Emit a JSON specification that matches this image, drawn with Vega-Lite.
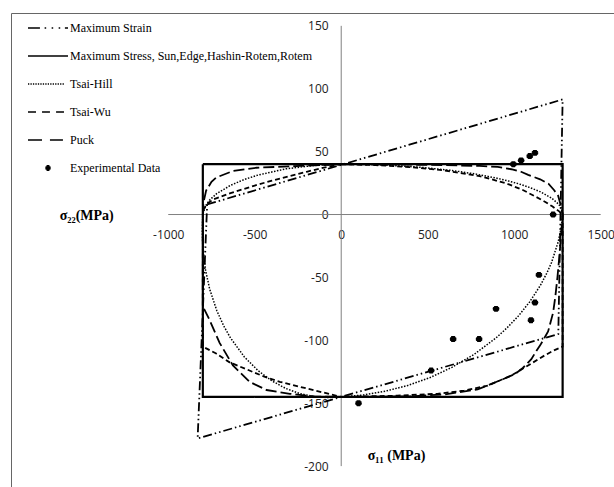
{
"$schema": "https://vega.github.io/schema/vega-lite/v6.json",
"width": 603, "height": 474,
"autosize": {"type": "none"},
"padding": {"left": 11, "top": 13, "right": 0, "bottom": 0},
"background": "white",
"config": {"view": {"stroke": "#666", "strokeWidth": 1}},
"layer": [
{"data": {"values": [{}]}, "mark": {"type": "rule", "color": "#808080", "strokeWidth": 1},
 "encoding": {"x": {"datum": -1000, "type": "quantitative", "scale": {"domain": [-1909, 1577], "nice": false, "zero": false},
   "axis": {"orient": "bottom", "offset": -272.5, "values": [-1000, -500, 0, 500, 1000, 1500], "labelExpr": "'' + datum.value", "domain": false, "ticks": false, "tickSize": 0, "grid": false, "labelFont": "Open Sans", "labelFontSize": 12, "labelColor": "#222", "labelPadding": 15, "labelFlush": false, "labelOverlap": false,
    "title": "σ₁₁ (MPa)", "titleFont": "Liberation Serif", "titleFontSize": 14, "titleFontWeight": "bold", "titleColor": "black", "titleX": 385, "titleY": 240.5, "titleAlign": "center", "titleBaseline": "middle", "titleAngle": 0}},
  "x2": {"datum": 1500},
  "y": {"datum": 0, "type": "quantitative", "scale": {"domain": [-216.6, 160.2], "nice": false, "zero": false},
   "axis": {"orient": "left", "offset": -330.2, "values": [-200, -150, -100, -50, 0, 50, 100, 150], "labelExpr": "'' + datum.value", "domain": false, "ticks": false, "tickSize": 0, "grid": false, "labelFont": "Open Sans", "labelFontSize": 12, "labelColor": "#222", "labelPadding": 13, "labelFlush": false, "labelOverlap": false,
    "title": "σ₂₂(MPa)", "titleFont": "Liberation Serif", "titleFontSize": 14, "titleFontWeight": "bold", "titleColor": "black", "titleX": -255, "titleY": 202, "titleAlign": "center", "titleBaseline": "middle", "titleAngle": 0}}}},
{"data": {"values": [{}]}, "mark": {"type": "rule", "color": "#808080", "strokeWidth": 1},
 "encoding": {"x": {"datum": 0, "type": "quantitative", "scale": {"domain": [-1909, 1577], "nice": false, "zero": false}},
  "y": {"datum": -200, "type": "quantitative", "scale": {"domain": [-216.6, 160.2], "nice": false, "zero": false}}, "y2": {"datum": 150}}},
{"data": {"values": [
{"s":"Maximum Strain","i":0,"x":-775,"y":8},{"s":"Maximum Strain","i":1,"x":1280,"y":91.5},{"s":"Maximum Strain","i":2,"x":1255,"y":-95},{"s":"Maximum Strain","i":3,"x":-830,"y":-178},{"s":"Maximum Strain","i":4,"x":-775,"y":8},
{"s":"Maximum Stress, Sun,Edge,Hashin-Rotem,Rotem","i":0,"x":-800,"y":40},{"s":"Maximum Stress, Sun,Edge,Hashin-Rotem,Rotem","i":1,"x":1280,"y":40},{"s":"Maximum Stress, Sun,Edge,Hashin-Rotem,Rotem","i":2,"x":1280,"y":-145},{"s":"Maximum Stress, Sun,Edge,Hashin-Rotem,Rotem","i":3,"x":-800,"y":-145},{"s":"Maximum Stress, Sun,Edge,Hashin-Rotem,Rotem","i":4,"x":-800,"y":40},
{"s":"Tsai-Hill","i":0,"x":0,"y":40},{"s":"Tsai-Hill","i":1,"x":128,"y":39.9},{"s":"Tsai-Hill","i":2,"x":256,"y":39.3},{"s":"Tsai-Hill","i":3,"x":448,"y":37.7},{"s":"Tsai-Hill","i":4,"x":640,"y":35},{"s":"Tsai-Hill","i":5,"x":768,"y":32.4},{"s":"Tsai-Hill","i":6,"x":896,"y":29},{"s":"Tsai-Hill","i":7,"x":960,"y":26.9},{"s":"Tsai-Hill","i":8,"x":1024,"y":24.5},{"s":"Tsai-Hill","i":9,"x":1088,"y":21.6},{"s":"Tsai-Hill","i":10,"x":1152,"y":18},{"s":"Tsai-Hill","i":11,"x":1216,"y":13.1},{"s":"Tsai-Hill","i":12,"x":1254,"y":8.6},{"s":"Tsai-Hill","i":13,"x":1267,"y":6.3},{"s":"Tsai-Hill","i":14,"x":1274,"y":4.7},{"s":"Tsai-Hill","i":15,"x":1280,"y":1.3},
{"s":"Tsai-Hill","i":16,"x":1280,"y":0},{"s":"Tsai-Hill","i":17,"x":1274,"y":-8.5},{"s":"Tsai-Hill","i":18,"x":1267,"y":-13.9},{"s":"Tsai-Hill","i":19,"x":1254,"y":-21.9},{"s":"Tsai-Hill","i":20,"x":1216,"y":-38.1},{"s":"Tsai-Hill","i":21,"x":1190,"y":-46.2},{"s":"Tsai-Hill","i":22,"x":1152,"y":-56.2},{"s":"Tsai-Hill","i":23,"x":1088,"y":-69.7},{"s":"Tsai-Hill","i":24,"x":1024,"y":-80.7},{"s":"Tsai-Hill","i":25,"x":960,"y":-89.9},{"s":"Tsai-Hill","i":26,"x":896,"y":-98},{"s":"Tsai-Hill","i":27,"x":768,"y":-111.2},{"s":"Tsai-Hill","i":28,"x":640,"y":-121.5},{"s":"Tsai-Hill","i":29,"x":512,"y":-129.7},{"s":"Tsai-Hill","i":30,"x":384,"y":-135.9},{"s":"Tsai-Hill","i":31,"x":256,"y":-140.4},{"s":"Tsai-Hill","i":32,"x":128,"y":-143.5},{"s":"Tsai-Hill","i":33,"x":0,"y":-145},
{"s":"Tsai-Hill","i":34,"x":-80,"y":-145.5},{"s":"Tsai-Hill","i":35,"x":-160,"y":-144.7},{"s":"Tsai-Hill","i":36,"x":-240,"y":-142.3},{"s":"Tsai-Hill","i":37,"x":-320,"y":-138.3},{"s":"Tsai-Hill","i":38,"x":-400,"y":-132.3},{"s":"Tsai-Hill","i":39,"x":-480,"y":-124.2},{"s":"Tsai-Hill","i":40,"x":-560,"y":-113.2},{"s":"Tsai-Hill","i":41,"x":-640,"y":-98.1},{"s":"Tsai-Hill","i":42,"x":-680,"y":-88.4},{"s":"Tsai-Hill","i":43,"x":-720,"y":-76.1},{"s":"Tsai-Hill","i":44,"x":-760,"y":-59.5},{"s":"Tsai-Hill","i":45,"x":-784,"y":-44.5},{"s":"Tsai-Hill","i":46,"x":-800,"y":-26.3},{"s":"Tsai-Hill","i":47,"x":-803,"y":-13.2},{"s":"Tsai-Hill","i":48,"x":-800,"y":0},
{"s":"Tsai-Hill","i":49,"x":-784,"y":7},{"s":"Tsai-Hill","i":50,"x":-760,"y":11.6},{"s":"Tsai-Hill","i":51,"x":-720,"y":16.6},{"s":"Tsai-Hill","i":52,"x":-640,"y":23.2},{"s":"Tsai-Hill","i":53,"x":-560,"y":27.9},{"s":"Tsai-Hill","i":54,"x":-480,"y":31.4},{"s":"Tsai-Hill","i":55,"x":-320,"y":36.3},{"s":"Tsai-Hill","i":56,"x":-160,"y":39},{"s":"Tsai-Hill","i":57,"x":0,"y":40},
{"s":"Tsai-Wu","i":0,"x":0,"y":40},{"s":"Tsai-Wu","i":1,"x":200,"y":39.3},{"s":"Tsai-Wu","i":2,"x":400,"y":37.7},{"s":"Tsai-Wu","i":3,"x":600,"y":35},{"s":"Tsai-Wu","i":4,"x":800,"y":30.5},{"s":"Tsai-Wu","i":5,"x":950,"y":25},{"s":"Tsai-Wu","i":6,"x":1050,"y":19.5},{"s":"Tsai-Wu","i":7,"x":1120,"y":14.5},{"s":"Tsai-Wu","i":8,"x":1180,"y":10},{"s":"Tsai-Wu","i":9,"x":1220,"y":6.5},{"s":"Tsai-Wu","i":10,"x":1260,"y":2.5},{"s":"Tsai-Wu","i":11,"x":1280,"y":0},
{"s":"Tsai-Wu","i":12,"x":1280,"y":-50},{"s":"Tsai-Wu","i":13,"x":1280,"y":-105},{"s":"Tsai-Wu","i":14,"x":1230,"y":-108},{"s":"Tsai-Wu","i":15,"x":1176,"y":-112},{"s":"Tsai-Wu","i":16,"x":1080,"y":-120},{"s":"Tsai-Wu","i":17,"x":983,"y":-128},{"s":"Tsai-Wu","i":18,"x":847,"y":-136},{"s":"Tsai-Wu","i":19,"x":711,"y":-140},{"s":"Tsai-Wu","i":20,"x":556,"y":-142.5},{"s":"Tsai-Wu","i":21,"x":324,"y":-144},{"s":"Tsai-Wu","i":22,"x":0,"y":-145},
{"s":"Tsai-Wu","i":23,"x":-103,"y":-141.5},{"s":"Tsai-Wu","i":24,"x":-238,"y":-137},{"s":"Tsai-Wu","i":25,"x":-355,"y":-133},{"s":"Tsai-Wu","i":26,"x":-452,"y":-128.5},{"s":"Tsai-Wu","i":27,"x":-548,"y":-123},{"s":"Tsai-Wu","i":28,"x":-645,"y":-117.5},{"s":"Tsai-Wu","i":29,"x":-723,"y":-110.5},{"s":"Tsai-Wu","i":30,"x":-800,"y":-105},{"s":"Tsai-Wu","i":31,"x":-800,"y":-50},{"s":"Tsai-Wu","i":32,"x":-800,"y":0},
{"s":"Tsai-Wu","i":33,"x":-795,"y":4},{"s":"Tsai-Wu","i":34,"x":-780,"y":8},{"s":"Tsai-Wu","i":35,"x":-740,"y":12},{"s":"Tsai-Wu","i":36,"x":-640,"y":17},{"s":"Tsai-Wu","i":37,"x":-500,"y":23},{"s":"Tsai-Wu","i":38,"x":-400,"y":27},{"s":"Tsai-Wu","i":39,"x":-300,"y":30.5},{"s":"Tsai-Wu","i":40,"x":-200,"y":34},{"s":"Tsai-Wu","i":41,"x":-100,"y":37.3},{"s":"Tsai-Wu","i":42,"x":0,"y":40},
{"s":"Puck","i":0,"x":0,"y":40},{"s":"Puck","i":1,"x":300,"y":39.8},{"s":"Puck","i":2,"x":600,"y":39.3},{"s":"Puck","i":3,"x":800,"y":38.6},{"s":"Puck","i":4,"x":905,"y":37.8},{"s":"Puck","i":5,"x":983,"y":36},{"s":"Puck","i":6,"x":1040,"y":34},{"s":"Puck","i":7,"x":1081,"y":31.5},{"s":"Puck","i":8,"x":1150,"y":28},{"s":"Puck","i":9,"x":1198,"y":24.5},{"s":"Puck","i":10,"x":1230,"y":19.5},{"s":"Puck","i":11,"x":1254,"y":15},{"s":"Puck","i":12,"x":1270,"y":7},{"s":"Puck","i":13,"x":1280,"y":0},
{"s":"Puck","i":14,"x":1272,"y":-15},{"s":"Puck","i":15,"x":1262,"y":-32},{"s":"Puck","i":16,"x":1250,"y":-50},{"s":"Puck","i":17,"x":1238,"y":-65},{"s":"Puck","i":18,"x":1225,"y":-78},{"s":"Puck","i":19,"x":1196,"y":-93},{"s":"Puck","i":20,"x":1150,"y":-104},{"s":"Puck","i":21,"x":1130,"y":-108},{"s":"Puck","i":22,"x":1099,"y":-115},{"s":"Puck","i":23,"x":1050,"y":-122},{"s":"Puck","i":24,"x":1002,"y":-127},{"s":"Puck","i":25,"x":924,"y":-131.5},{"s":"Puck","i":26,"x":789,"y":-139},{"s":"Puck","i":27,"x":600,"y":-143},{"s":"Puck","i":28,"x":400,"y":-144.5},{"s":"Puck","i":29,"x":0,"y":-145},
{"s":"Puck","i":30,"x":-150,"y":-144.7},{"s":"Puck","i":31,"x":-297,"y":-142.5},{"s":"Puck","i":32,"x":-432,"y":-139.5},{"s":"Puck","i":33,"x":-529,"y":-133},{"s":"Puck","i":34,"x":-626,"y":-120},{"s":"Puck","i":35,"x":-703,"y":-102},{"s":"Puck","i":36,"x":-762,"y":-83.5},{"s":"Puck","i":37,"x":-800,"y":-73},{"s":"Puck","i":38,"x":-800,"y":-30},{"s":"Puck","i":39,"x":-800,"y":0},
{"s":"Puck","i":40,"x":-797,"y":9},{"s":"Puck","i":41,"x":-781,"y":19},{"s":"Puck","i":42,"x":-750,"y":26},{"s":"Puck","i":43,"x":-723,"y":29.4},{"s":"Puck","i":44,"x":-626,"y":34.6},{"s":"Puck","i":45,"x":-490,"y":37.2},{"s":"Puck","i":46,"x":-238,"y":38.6},{"s":"Puck","i":47,"x":0,"y":40}
]},
 "mark": {"type": "line", "color": "black"},
 "encoding": {
  "x": {"field": "x", "type": "quantitative", "scale": {"domain": [-1909, 1577], "nice": false, "zero": false}},
  "y": {"field": "y", "type": "quantitative", "scale": {"domain": [-216.6, 160.2], "nice": false, "zero": false}},
  "order": {"field": "i", "type": "quantitative"},
  "strokeDash": {"field": "s", "type": "nominal", "scale": {"domain": ["Maximum Strain", "Maximum Stress, Sun,Edge,Hashin-Rotem,Rotem", "Tsai-Hill", "Tsai-Wu", "Puck"], "range": [[9, 3, 1.5, 3, 1.5, 3], [1, 0], [1.5, 1.5], [5, 3], [11, 4]]}, "legend": null},
  "strokeWidth": {"field": "s", "type": "nominal", "scale": {"type": "ordinal", "domain": ["Maximum Strain", "Maximum Stress, Sun,Edge,Hashin-Rotem,Rotem", "Tsai-Hill", "Tsai-Wu", "Puck"], "range": [1.8, 2.2, 1.5, 1.8, 1.8]}, "legend": null}
 }},
{"data": {"values": [
{"s":"Experimental Data","x":995,"y":40},{"s":"Experimental Data","x":1040,"y":43},{"s":"Experimental Data","x":1090,"y":46.5},{"s":"Experimental Data","x":1120,"y":49},{"s":"Experimental Data","x":1225,"y":0},{"s":"Experimental Data","x":1143,"y":-48},{"s":"Experimental Data","x":1120,"y":-70},{"s":"Experimental Data","x":1097,"y":-84},{"s":"Experimental Data","x":895,"y":-75},{"s":"Experimental Data","x":797,"y":-99},{"s":"Experimental Data","x":647,"y":-99},{"s":"Experimental Data","x":520,"y":-124},{"s":"Experimental Data","x":100,"y":-150}
]},
 "mark": {"type": "point", "filled": false, "color": "black", "strokeWidth": 1.5, "strokeCap": "round", "size": 676, "opacity": 1},
 "encoding": {
  "x": {"field": "x", "type": "quantitative", "scale": {"domain": [-1909, 1577], "nice": false, "zero": false}},
  "y": {"field": "y", "type": "quantitative", "scale": {"domain": [-216.6, 160.2], "nice": false, "zero": false}},
  "shape": {"field": "s", "type": "nominal",
   "scale": {"domain": ["Maximum Strain", "Maximum Stress, Sun,Edge,Hashin-Rotem,Rotem", "Tsai-Hill", "Tsai-Wu", "Puck", "Experimental Data"],
    "range": ["M-1.54,0H-0.62M-0.26,0h0.12M0.28,0h0.12M0.82,0h0.12M1.3,0H1.54", "M-1.54,0H1.54", "M-1.54,0h0.1M-1.35,0h0.1M-1.16,0h0.1M-0.97,0h0.1M-0.78,0h0.1M-0.59,0h0.1M-0.4,0h0.1M-0.21,0h0.1M-0.02,0h0.1M0.17,0h0.1M0.36,0h0.1M0.55,0h0.1M0.74,0h0.1M0.93,0h0.1M1.12,0h0.1", "M-1.54,0H-0.92M-0.46,0H0.15M0.62,0H1.23", "M-1.54,0H-0.46M0.15,0H1.15", "M-0.11,-0.17H0.11M-0.19,-0.085H0.19M-0.21,0H0.21M-0.19,0.085H0.19M-0.11,0.17H0.11"]},
   "legend": {"orient": "none", "legendX": 23, "legendY": 1, "title": null, "padding": 0, "symbolSize": 676, "symbolStrokeWidth": 1.5, "symbolStrokeColor": "black", "symbolOpacity": 1, "labelFont": "Liberation Serif", "labelFontSize": 12, "labelColor": "black", "labelOffset": 8, "rowPadding": 8, "labelLimit": 400}}
 }}
]
}
